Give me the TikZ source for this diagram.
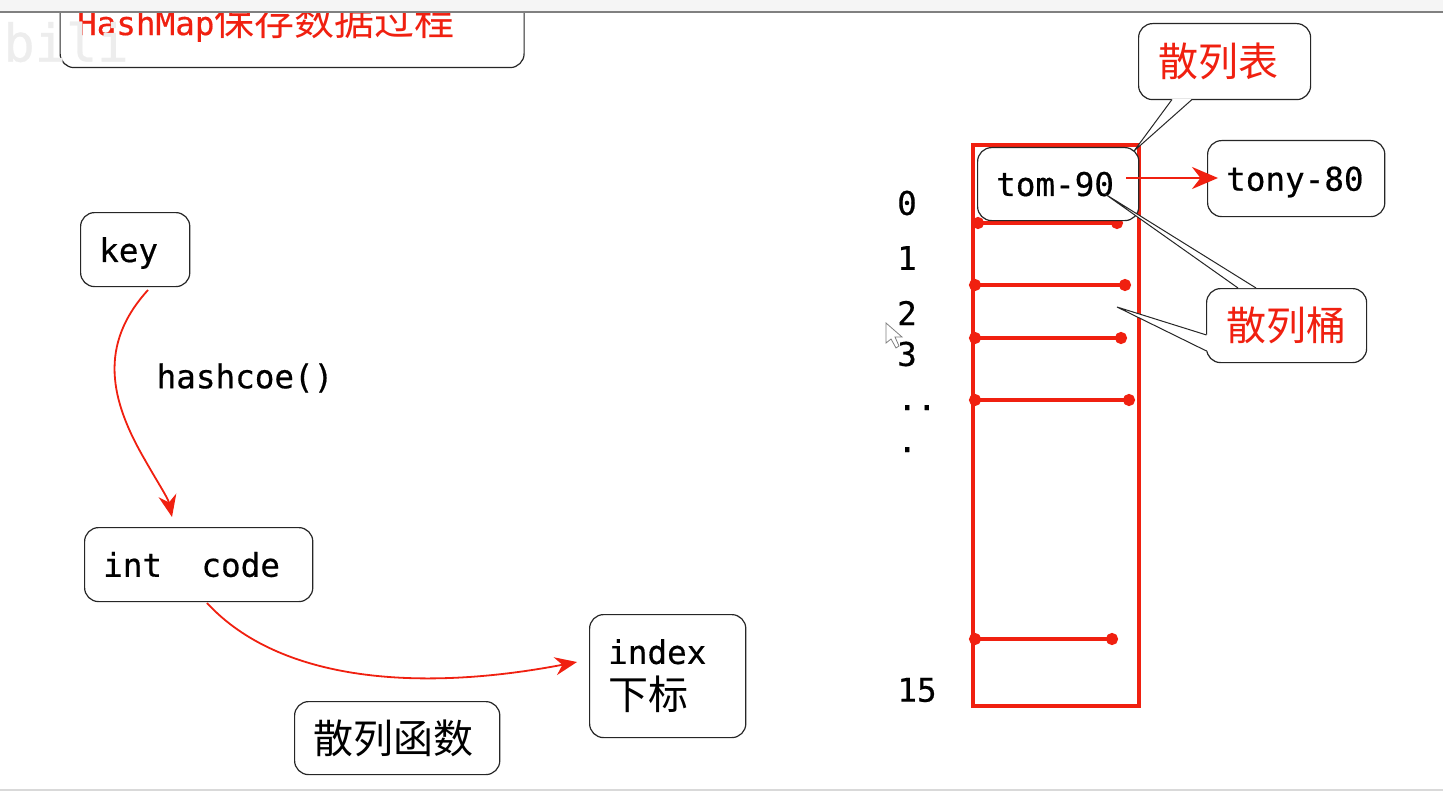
\documentclass[tikz,border=0pt]{standalone}
\usepackage{fontspec}
\setmainfont{DejaVu Sans Mono}[UprightFeatures={FakeBold=0.5}]
\newfontfamily\cjk{Noto Sans CJK SC}
\usetikzlibrary{arrows.meta}
\definecolor{hashred}{HTML}{F02010}
\definecolor{boxline}{HTML}{262626}
\tikzset{
  roundbox/.style={draw=boxline,line width=0.6pt,rounded corners=7pt,fill=white,
    inner xsep=9.3pt,inner ysep=0pt,align=left,anchor=north west,
    font=\fontsize{16.3}{20}\selectfont},
  tailline/.style={draw=boxline,line width=0.5pt,fill=white},
  bucket/.style={draw=hashred,line width=1.7pt,{Circle[length=6pt]}-{Circle[length=6pt]}},
  curvearrow/.style={draw=hashred,line width=0.9pt,-{Stealth[length=11pt,width=9pt]}},
  numlabel/.style={font=\fontsize{16.3}{20}\selectfont,inner sep=0pt},
  redtext/.style={text=hashred}
}
\begin{document}
\begin{tikzpicture}[x=0.5pt,y=-0.5pt]
\useasboundingbox (0,0) rectangle (1443,791);
\fill[white] (0,0) rectangle (1443,791);
% title box, cut by the window edge
\node[roundbox,text width=215pt,minimum height=46pt,redtext,inner xsep=8.5pt] (title) at (59.5,-25) {HashMap{\cjk\fontsize{20}{24}\selectfont 保存数据过程}};
% left side
\node[roundbox,text width=36pt,minimum height=37pt,text depth=0pt] (key) at (80,212) {key};
\node[roundbox,text width=95.5pt,minimum height=37pt] (code) at (84,527) {int\hspace{19.7pt}code};
\node[roundbox,text width=59.5pt,minimum height=61.5pt,font=\fontsize{16.3}{23}\selectfont] (index) at (589,614) {index\\{\cjk\fontsize{20}{23}\selectfont 下标}};
\node[roundbox,text width=84pt,minimum height=36.5pt] (func) at (294,701) {\cjk\fontsize{20}{24}\selectfont 散列函数};
\node[numlabel] (hashfn) at (245,378) {hashcoe()};
\coordinate (keyout) at (148,290);
\coordinate (codein) at (172,517);
\coordinate (codeout) at (207,603);
\coordinate (indexin) at (577,662);
\draw[curvearrow] (keyout) .. controls (98,345) and (110,400) .. (145,460) .. controls (158,483) and (168,498) .. (codein);
\draw[curvearrow] (codeout) .. controls (280,682) and (420,692) .. (indexin);
% table
\draw[draw=hashred,line width=1.7pt] (973,145) rectangle (1139,706);
\foreach \i/\xa/\ya/\xb in {0/972/223/1123,1/969/285/1131,2/969/338/1127,3/969/400/1135,4/969/639/1118}{
  \coordinate (a\i) at (\xa,\ya);
  \coordinate (b\i) at (\xb,\ya);
  \draw[bucket] (a\i) -- (b\i);
}
\foreach \n/\ty/\txt in {n0/203/0,n1/258/1,n2/313/2,n3/354/3}{
  \node[numlabel] (\n) at (907,\ty) {\txt};
}
\node[numlabel,anchor=base west] (dots) at (897,410) {..};
\node[numlabel,anchor=base west] (dot) at (897,452) {.};
\node[numlabel] (n15) at (917,690) {15};
% callouts
\coordinate (tiptable) at (1134,151);
\coordinate (tipa) at (1105,194);
\coordinate (tipb) at (1117,307);
\node[roundbox,text width=66pt,minimum height=38pt,text=hashred,inner xsep=10pt] (tablebox) at (1138,23) {\cjk\fontsize{20}{24}\selectfont 散列表};
\fill[white] (tiptable) -- (1172,99) -- (1192,99) -- cycle;
\draw[tailline,fill=none] (1172,99.5) -- (tiptable) -- (1192,99.5);
\node[roundbox,text width=62pt,minimum height=36.5pt] (tom) at (977,147) {tom-90};
\node[roundbox,text width=70pt,minimum height=38pt,text depth=0pt] (tony) at (1207,140) {tony-80};
\node[roundbox,text width=60pt,minimum height=37pt,text=hashred,inner xsep=10pt] (bucketbox) at (1206,288) {\cjk\fontsize{20}{24}\selectfont 散列桶};
\fill[white] (1238,288) -- (tipa) -- (1256,288) -- cycle;
\draw[tailline,fill=none] (1238,288) -- (tipa) -- (1256,288);
\fill[white] (tipb) -- (1208,335) -- (1208,351) -- cycle;
\draw[tailline,fill=none] (1206.5,335) -- (tipb) -- (1206.5,351);
\fill[white] (1204,337) rectangle (1209,349);
\draw[curvearrow,line width=1.3pt,-{Stealth[length=13pt,width=11pt]}] (1126,178) -- (1218,178);
% mouse pointer
\draw[draw=gray,line width=0.4pt,fill=white] (886,323) -- (886,343) -- (891,339) -- (896,348) -- (899,346) -- (895,337) -- (902,337) -- cycle;
% window edges and watermark
\fill[white!96!black] (0,0) rectangle (1443,11);
\draw[draw=gray,line width=0.8pt] (0,12) -- (1443,12);
\draw[draw=black!15,line width=1pt] (0,790) -- (1443,790);
\node[inner sep=0pt,text=black!7,font=\fontsize{26}{28}\selectfont] (mark) at (66,42) {bili};
\end{tikzpicture}
\end{document}
